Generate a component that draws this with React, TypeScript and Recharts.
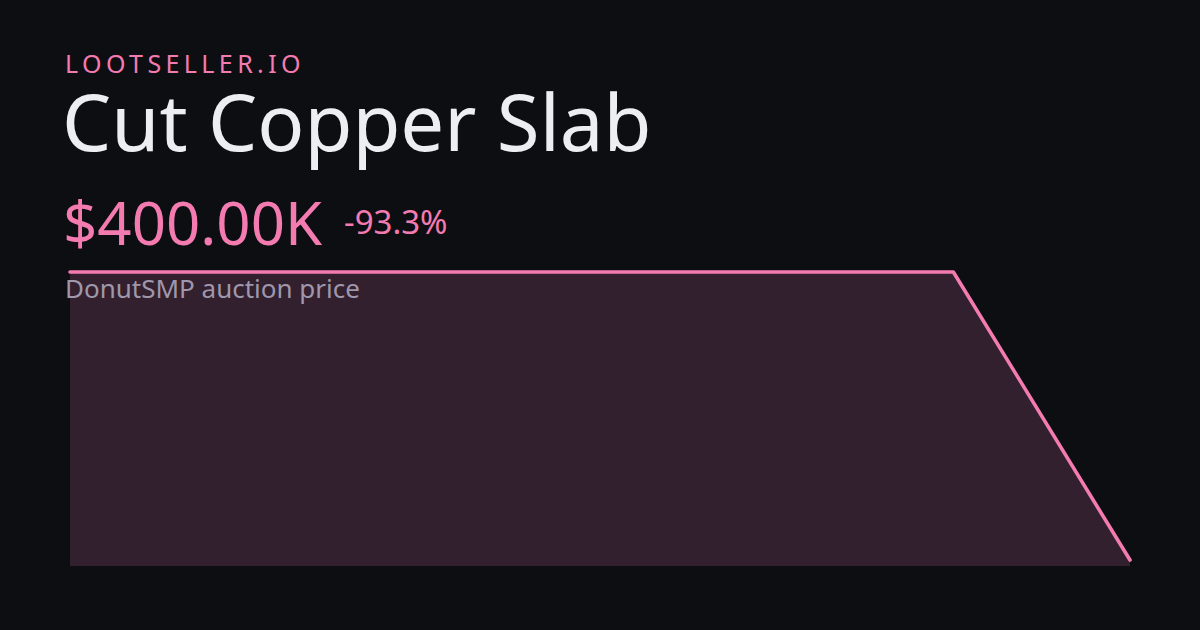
import { AreaChart, Area, XAxis, YAxis } from "recharts";

const days = ["D1", "D2", "D3", "D4", "D5", "D6", "D7"];
const prices = [6000000, 6000000, 6000000, 6000000, 6000000, 6000000, 400000];

const PINK = "#f47bb0";
const FILL = "#33202e";
const BG = "#0d0e12";

const data = days.map((d, i) => ({ name: d, price: prices[i] }));

export default function App() {
    return (
        <div style={{ position: "absolute", left: 0, top: 0, width: 1200, height: 630, background: BG, overflow: "hidden", fontFamily: "'Noto Sans', sans-serif" }}>
            <div style={{ position: "absolute", left: 65, top: 267 }}>
                <AreaChart width={1070} height={304} data={data} margin={{ top: 5, right: 5, bottom: 5, left: 5 }}>
                    <XAxis dataKey="name" hide />
                    <YAxis hide domain={[(min: number) => min - 116000, "dataMax"]} />
                    <Area type="linear" dataKey="price" stroke={PINK} strokeWidth={3.6} strokeLinecap="round" strokeLinejoin="round" fill={FILL} fillOpacity={1} isAnimationActive={false} dot={false} activeDot={false} />
                </AreaChart>
            </div>

            <div style={{ position: "absolute", left: 65, top: 51, fontSize: 25, letterSpacing: 4.4, color: PINK, lineHeight: 1 }}>LOOTSELLER.IO</div>
            <div style={{ position: "absolute", left: 62, top: 86, fontSize: 78, color: "#eceef2", lineHeight: 0.9 }}>Cut Copper Slab</div>
            <div style={{ position: "absolute", left: 63, top: 192, fontSize: 60, color: PINK, lineHeight: 1 }}>$400.00K</div>
            <div style={{ position: "absolute", left: 344, top: 205, fontSize: 33, color: PINK, lineHeight: 1 }}>-93.3%</div>
            <div style={{ position: "absolute", left: 65, top: 275, fontSize: 26, color: "#9f97ab", lineHeight: 1 }}>DonutSMP auction price</div>
        </div>
    );
}
